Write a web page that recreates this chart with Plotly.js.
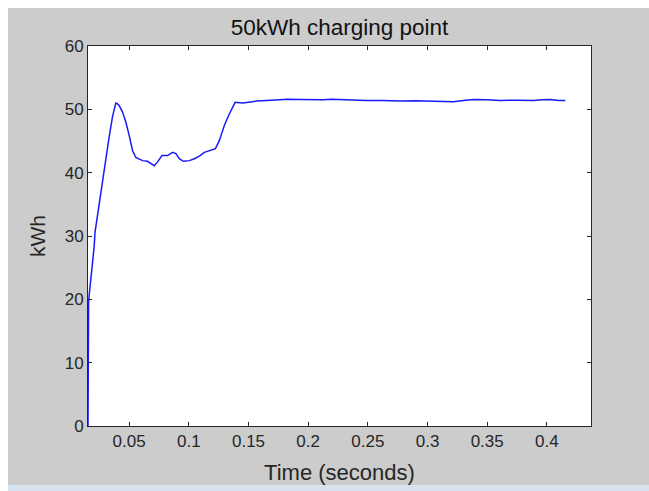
<!DOCTYPE html>
<html>
<head>
<meta charset="utf-8">
<script src="https://cdn.plot.ly/plotly-3.0.1.min.js"></script>
<style>
  html, body { margin: 0; padding: 0; background: #ffffff; }
  #fig {
    position: absolute; left: 8px; top: 8px;
    width: 641px; height: 477px;
    border-bottom: 6px solid #d6e3ee;
  }
</style>
</head>
<body>
<div id="fig"></div>
<script>
// Charging power trace for the 50 kWh charging point
const timeSec = [
  0.0155, 0.0156, 0.0160, 0.0164, 0.0181, 0.0193, 0.0206, 0.0214, 0.0231, 0.0248,
  0.0254, 0.0276, 0.0304, 0.0332, 0.0360, 0.0388, 0.0400, 0.0416, 0.0444,
  0.0472, 0.0500, 0.0528, 0.0556, 0.0612, 0.0654, 0.0682, 0.0710, 0.0738,
  0.0775, 0.0822, 0.0864, 0.0892, 0.0920, 0.0954, 0.1004, 0.1046, 0.1088,
  0.1130, 0.1172, 0.1223, 0.1256, 0.1298, 0.1340, 0.1388, 0.1452, 0.1510,
  0.1565, 0.1650, 0.1733, 0.1830, 0.1929, 0.2030, 0.2124, 0.2200, 0.2265,
  0.2380, 0.2489, 0.2620, 0.2773, 0.2900, 0.3049, 0.3130, 0.3217, 0.3300,
  0.3385, 0.3500, 0.3609, 0.3750, 0.3889, 0.3960, 0.4029, 0.4100, 0.4155
];
const powerKWh = [
  0.0, 17.8, 19.5, 20.5, 23.3, 25.9, 28.2, 30.6, 32.8, 34.5,
  35.6, 38.8, 42.5, 45.6, 48.8, 51.0, 50.9, 50.6, 49.6,
  48.0, 45.9, 43.5, 42.4, 41.9, 41.8, 41.4, 41.1, 41.7,
  42.7, 42.7, 43.2, 43.0, 42.2, 41.8, 41.9, 42.2, 42.6,
  43.2, 43.5, 43.8, 45.1, 47.5, 49.3, 51.1, 51.0, 51.15,
  51.3, 51.4, 51.5, 51.6, 51.55, 51.5, 51.5, 51.6, 51.55,
  51.45, 51.4, 51.4, 51.3, 51.35, 51.3, 51.25, 51.2, 51.4,
  51.55, 51.5, 51.4, 51.45, 51.4, 51.5, 51.55, 51.4, 51.4
];
const xTicks = [0.05, 0.1, 0.15, 0.2, 0.25, 0.3, 0.35, 0.4];
const xTickLabels = ['0.05', '0.1', '0.15', '0.2', '0.25', '0.3', '0.35', '0.4'];
const yTicks = [0, 10, 20, 30, 40, 50, 60];

const axisColor = '#262626';
const textColor = '#262626';
const fontFamily = '"Liberation Sans", Arial, Helvetica, sans-serif';

const trace = {
  x: timeSec,
  y: powerKWh,
  type: 'scatter',
  mode: 'lines',
  line: { color: '#1a1aff', width: 1.5 },
  hoverinfo: 'x+y'
};

const axisBase = {
  showgrid: false,
  zeroline: false,
  showline: true,
  linecolor: axisColor,
  linewidth: 1,
  mirror: 'ticks',
  ticks: 'inside',
  ticklen: 4,
  tickwidth: 1,
  tickcolor: axisColor,
  tickfont: { family: fontFamily, size: 17, color: textColor }
};

const layout = {
  width: 641,
  height: 477,
  margin: { l: 80, r: 58, t: 38, b: 59 },
  paper_bgcolor: '#cccccc',
  plot_bgcolor: '#ffffff',
  showlegend: false,
  title: {
    text: '50kWh charging point',
    font: { family: fontFamily, size: 22.5, color: '#111111' },
    x: 0.5, xref: 'paper', xanchor: 'center',
    y: 0.96, yref: 'container', yanchor: 'middle'
  },
  xaxis: Object.assign({}, axisBase, {
    range: [0.0155, 0.437],
    tickvals: xTicks,
    ticktext: xTickLabels,
    title: { text: 'Time (seconds)', font: { family: fontFamily, size: 22, color: textColor }, standoff: 19 }
  }),
  yaxis: Object.assign({}, axisBase, {
    range: [0, 60],
    tickvals: yTicks,
    title: { text: 'kWh', font: { family: fontFamily, size: 21, color: textColor }, standoff: 13 }
  })
};

Plotly.newPlot('fig', [trace], layout, { displayModeBar: false, staticPlot: true });
</script>
</body>
</html>
